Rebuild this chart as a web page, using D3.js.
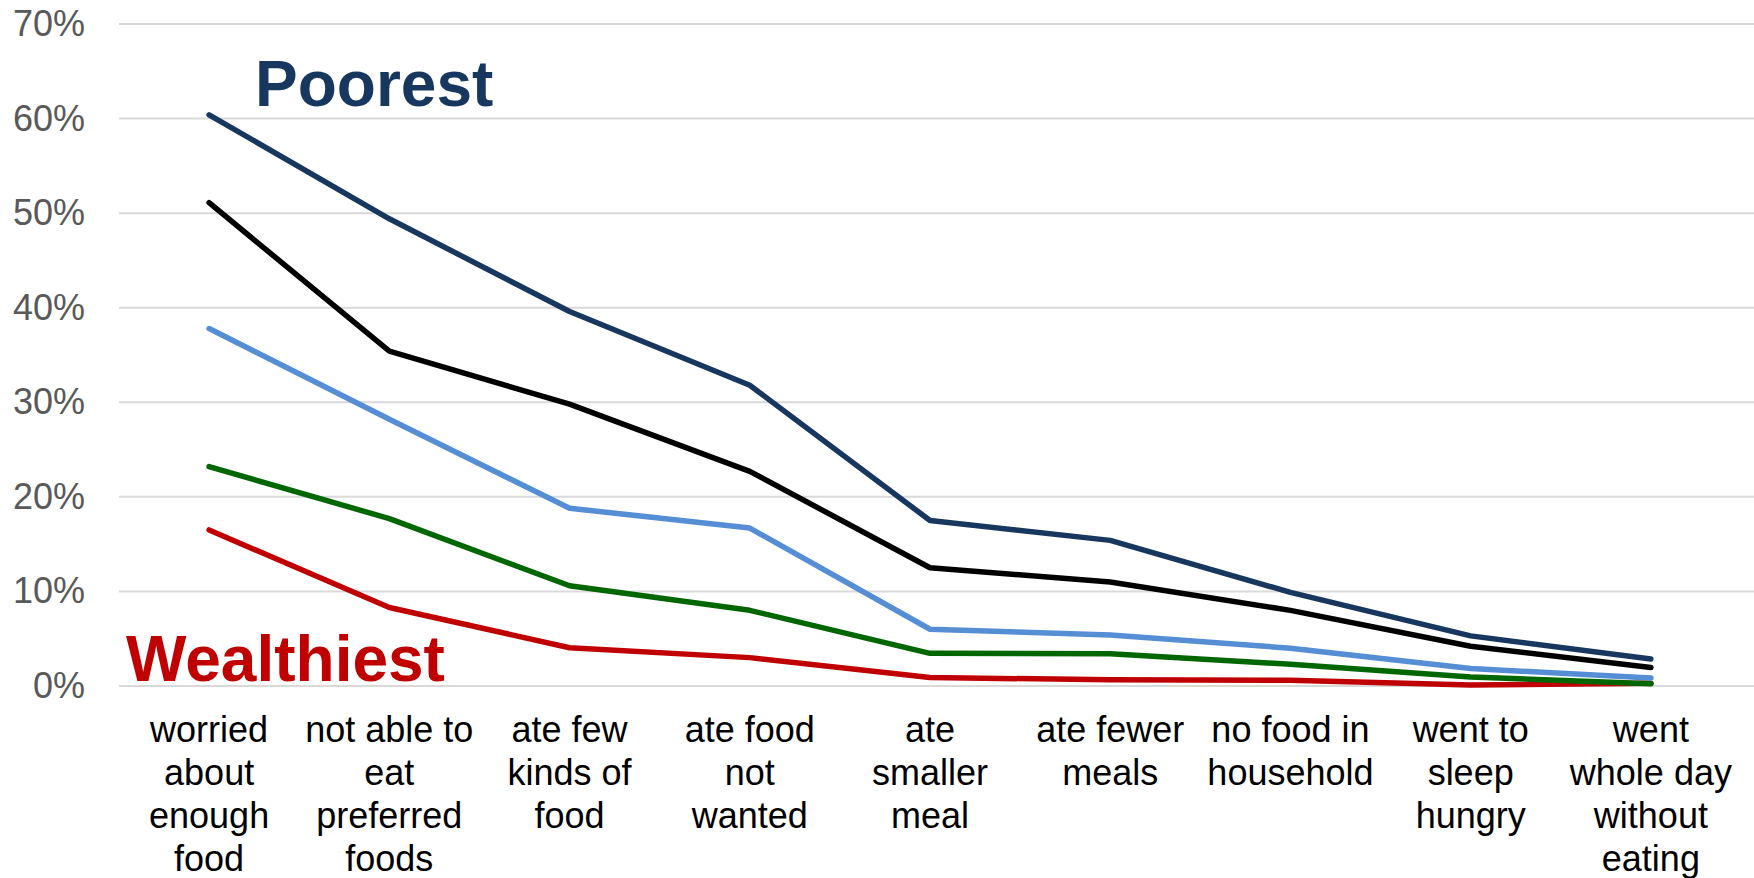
<!DOCTYPE html>
<html>
<head>
<meta charset="utf-8">
<script src="https://cdn.jsdelivr.net/npm/d3@7"></script>
<style>
  html, body { margin: 0; padding: 0; background: #ffffff; }
  svg { display: block; }
  text { font-family: "Liberation Sans", Arial, sans-serif; }
</style>
</head>
<body>
<svg id="chart" width="1754" height="878"></svg>
<script>
// Food insecurity experiences by wealth group (share of households)
const categories = [
  "worried about enough food",
  "not able to eat preferred foods",
  "ate few kinds of food",
  "ate food not wanted",
  "ate smaller meal",
  "ate fewer meals",
  "no food in household",
  "went to sleep hungry",
  "went whole day without eating"
];
const categoryLines = [
  ["worried", "about", "enough", "food"],
  ["not able to", "eat", "preferred", "foods"],
  ["ate few", "kinds of", "food"],
  ["ate food", "not", "wanted"],
  ["ate", "smaller", "meal"],
  ["ate fewer", "meals"],
  ["no food in", "household"],
  ["went to", "sleep", "hungry"],
  ["went", "whole day", "without", "eating"]
];

const poorest    = [60.4, 49.4, 39.6, 31.8, 17.5, 15.4, 9.9, 5.3, 2.85];
const second     = [51.1, 35.4, 29.8, 22.7, 12.5, 11.0, 8.0, 4.2, 1.95];
const middle     = [37.8, 28.2, 18.8, 16.7, 6.0, 5.4, 4.0, 1.85, 0.85];
const fourth     = [23.2, 17.7, 10.6, 8.0, 3.45, 3.4, 2.3, 0.95, 0.25];
const wealthiest = [16.5, 8.3, 4.05, 3.0, 0.9, 0.65, 0.6, 0.1, 0.3];

const yTicks = [0, 10, 20, 30, 40, 50, 60, 70];

// drawing order: later series sit on top
const series = [
  { name: "Wealthiest", values: wealthiest, color: "#C00000" },
  { name: "Middle",     values: middle,     color: "#558ED5" },
  { name: "Fourth",     values: fourth,     color: "#006600" },
  { name: "Second",     values: second,     color: "#000000" },
  { name: "Poorest",    values: poorest,    color: "#17375E" }
];

const svg = d3.select("#chart");
const plotLeft = 119, plotRight = 1741, plotTop = 24, plotBottom = 686;

const x = d3.scaleBand().domain(categories).range([plotLeft, plotRight]).padding(0);
const y = d3.scaleLinear().domain([0, 70]).range([plotBottom, plotTop]);

// horizontal gridlines
svg.append("g")
  .selectAll("line")
  .data(yTicks)
  .join("line")
  .attr("x1", plotLeft).attr("x2", 1754)
  .attr("y1", d => y(d)).attr("y2", d => y(d))
  .attr("stroke", "#D9D9D9")
  .attr("stroke-width", 2);

// y axis labels
const yAxis = d3.axisLeft(y).tickValues(yTicks).tickFormat(d => d + "%").tickSize(0).tickPadding(0);
const yg = svg.append("g").attr("transform", "translate(85,0)").call(yAxis);
yg.select(".domain").remove();
yg.selectAll("text")
  .attr("fill", "#595959")
  .style("font-size", "36px")
  .style("font-family", "'Liberation Sans', Arial, sans-serif");

// category labels
const catG = svg.append("g")
  .selectAll("text")
  .data(categories)
  .join("text")
  .attr("text-anchor", "middle")
  .attr("fill", "#000000")
  .style("font-size", "36px");
catG.each(function(d, i) {
  const t = d3.select(this);
  const cx = x(d) + x.bandwidth() / 2;
  categoryLines[i].forEach((ln, k) => {
    t.append("tspan").attr("x", cx).attr("y", 742 + k * 43).text(ln);
  });
});

// series lines
const line = d3.line()
  .x((d, i) => x(categories[i]) + x.bandwidth() / 2)
  .y(d => y(d));

svg.append("g")
  .selectAll("path")
  .data(series)
  .join("path")
  .attr("d", s => line(s.values))
  .attr("fill", "none")
  .attr("stroke", s => s.color)
  .attr("stroke-width", 5.5)
  .attr("stroke-linecap", "round")
  .attr("stroke-linejoin", "round");

// group annotations
svg.append("text")
  .attr("x", 255).attr("y", 106)
  .attr("fill", "#17375E")
  .style("font-size", "64px").style("font-weight", "bold")
  .text("Poorest");
svg.append("text")
  .attr("x", 126).attr("y", 681)
  .attr("fill", "#C00000")
  .style("font-size", "64px").style("font-weight", "bold")
  .text("Wealthiest");
</script>
</body>
</html>
